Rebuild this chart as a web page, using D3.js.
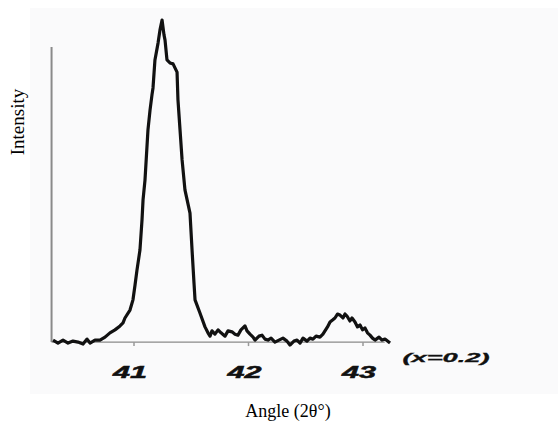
<!DOCTYPE html>
<html>
<head>
<meta charset="utf-8">
<script src="https://cdn.jsdelivr.net/npm/d3@7"></script>
<style>
  body { margin: 0; background: #fff; }
</style>
</head>
<body>
<div id="chart"></div>
<script>
// diffraction angle (2theta, degrees) and intensity (arb. units)
const angle = [
  40.293, 40.336, 40.380, 40.424, 40.467, 40.511, 40.555, 40.590, 40.616, 40.659,
  40.703, 40.747, 40.790, 40.834, 40.878, 40.904, 40.921, 40.965, 40.991, 41.009,
  41.026, 41.052, 41.070, 41.079, 41.096, 41.122, 41.140, 41.157, 41.166, 41.183,
  41.210, 41.227, 41.245, 41.262, 41.271, 41.288, 41.314, 41.341, 41.376, 41.384,
  41.402, 41.420, 41.445, 41.489, 41.507, 41.524, 41.533, 41.576, 41.620, 41.646,
  41.664, 41.681, 41.707, 41.734, 41.760, 41.795, 41.821, 41.856, 41.882, 41.908,
  41.934, 41.969, 41.987, 42.013, 42.040, 42.057, 42.092, 42.118, 42.144, 42.170,
  42.197, 42.231, 42.266, 42.301, 42.336, 42.362, 42.397, 42.424, 42.450, 42.476,
  42.511, 42.537, 42.563, 42.590, 42.624, 42.650, 42.668, 42.690, 42.712, 42.734,
  42.755, 42.777, 42.799, 42.825, 42.843, 42.860, 42.886, 42.904, 42.930, 42.952,
  42.974, 42.996, 43.017, 43.039, 43.061, 43.083, 43.105, 43.140, 43.166, 43.192,
  43.236
]
const intensity = [
  30, 21, 30, 21, 27, 24, 18, 33, 21, 30,
  30, 39, 52, 61, 73, 82, 97, 121, 152, 197,
  242, 303, 394, 455, 515, 667, 727, 773, 794, 879,
  930, 970, 1000, 955, 939, 879, 870, 867, 842, 758,
  667, 576, 485, 415, 303, 203, 152, 112, 70, 52,
  42, 58, 48, 61, 52, 42, 58, 55, 48, 45,
  61, 73, 58, 48, 39, 30, 42, 45, 33, 30,
  36, 24, 30, 36, 27, 15, 27, 30, 21, 36,
  27, 36, 33, 42, 39, 48, 58, 70, 85, 91,
  97, 109, 106, 97, 109, 103, 88, 97, 85, 70,
  76, 61, 67, 52, 45, 36, 30, 39, 30, 33,
  21
]
const tickValues = [41, 42, 43]
const xLabel = "Angle (2\u03b8\u00b0)"
const yLabel = "Intensity"
const note = "(x=0.2)"

const W = 558, H = 421
const svg = d3.select("#chart").append("svg")
  .attr("width", W).attr("height", H)

// light panel of the scanned figure
svg.append("rect")
  .attr("x", 30).attr("y", 8)
  .attr("width", W - 30).attr("height", 386)
  .attr("fill", "#fafafb")

const x = d3.scaleLinear().domain([41, 43]).range([134, 363])
const y = d3.scaleLinear().domain([0, 1000]).range([350, 20])

const baseVal = 24   // level where the x axis sits
const yTop = 918

/* axes */
svg.append("line")
  .attr("x1", x(40.28)).attr("x2", x(40.28))
  .attr("y1", y(yTop)).attr("y2", y(baseVal))
  .attr("stroke", "#8a8a8a").attr("stroke-width", 2)

svg.append("line")
  .attr("x1", x(40.28)).attr("x2", x(43.19))
  .attr("y1", y(baseVal)).attr("y2", y(baseVal))
  .attr("stroke", "#8a8a8a").attr("stroke-width", 1.2)

svg.selectAll(".tick")
  .data(tickValues)
  .enter()
  .append("line")
  .attr("x1", d => x(d)).attr("x2", d => x(d))
  .attr("y1", y(baseVal)).attr("y2", y(baseVal) + 4)
  .attr("stroke", "#999").attr("stroke-width", 1.5)

svg.selectAll(".tick-label")
  .data(tickValues)
  .enter()
  .append("text")
  .attr("transform", d => `translate(${x(d) - 4}, ${y(baseVal) + 36}) scale(1.8, 1)`)
  .attr("text-anchor", "middle")
  .attr("font-family", "Liberation Sans, Arial, sans-serif")
  .attr("font-weight", "bold")
  .attr("font-style", "italic")
  .attr("font-size", 17)
  .attr("fill", "#111")
  .attr("stroke", "#111").attr("stroke-width", 0.5)
  .text(d => d)

svg.append("text")
  .attr("transform", `translate(446, ${y(baseVal) + 20}) scale(2.1, 1)`)
  .attr("text-anchor", "middle")
  .attr("font-family", "Liberation Sans, Arial, sans-serif")
  .attr("font-weight", "bold")
  .attr("font-style", "italic")
  .attr("font-size", 13)
  .attr("fill", "#111")
  .attr("stroke", "#111").attr("stroke-width", 0.3)
  .text(note)

/* curve */
const line = d3.line()
  .x((d, i) => x(angle[i]))
  .y(d => y(d))

svg.append("path")
  .datum(intensity)
  .attr("d", line)
  .attr("fill", "none")
  .attr("stroke", "#111")
  .attr("stroke-width", 3.2)
  .attr("stroke-linejoin", "round")

/* axis titles */
svg.append("text")
  .attr("x", 288).attr("y", 417)
  .attr("text-anchor", "middle")
  .attr("font-family", "Liberation Serif, Times New Roman, serif")
  .attr("font-size", 18)
  .attr("fill", "#000")
  .text(xLabel)

svg.append("text")
  .attr("transform", "translate(24, 122) rotate(-90)")
  .attr("text-anchor", "middle")
  .attr("font-family", "Liberation Serif, Times New Roman, serif")
  .attr("font-size", 19)
  .attr("fill", "#000")
  .text(yLabel)
</script>
</body>
</html>
